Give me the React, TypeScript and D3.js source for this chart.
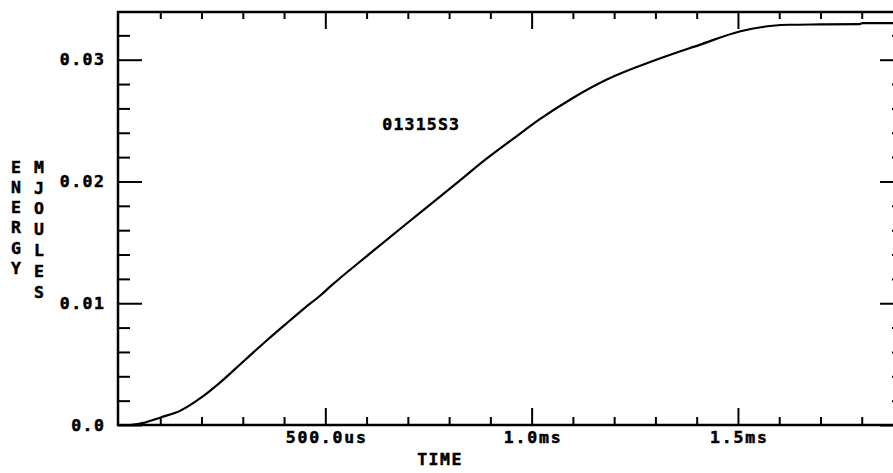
import { useEffect, useRef } from "react";
import * as d3 from "d3";

// time in ms, energy in joules
const timeMs = [
  0, 0.026, 0.06, 0.101, 0.149, 0.198, 0.239, 0.304, 0.36, 0.401, 0.449, 0.49,
  0.513, 0.607, 0.721, 0.825, 0.89, 0.955, 1.019, 1.099, 1.181, 1.302, 1.407,
  1.504, 1.584, 1.625, 1.7, 1.795, 1.802, 1.9,
];
const energy = [
  0, 0, 0.00018, 0.00062, 0.00118, 0.00222, 0.00332, 0.0053, 0.0070, 0.0082,
  0.00958, 0.0107, 0.0114, 0.01405, 0.0172, 0.02005, 0.02185, 0.0235,
  0.0251, 0.02684, 0.02835, 0.02999, 0.03122, 0.03232, 0.03279, 0.03287,
  0.0329, 0.03293, 0.03301, 0.03301,
];

const yMajor = [0, 0.01, 0.02, 0.03];
const yMajorLabels = ["0.0", "0.01", "0.02", "0.03"];
const yMinor = [0.002, 0.004, 0.006, 0.008, 0.012, 0.014, 0.016, 0.018, 0.022, 0.024, 0.026, 0.028, 0.032];

const xMajor = [0.5, 1.0, 1.5];
const xMajorLabels = ["500.0us", "1.0ms", "1.5ms"];
const xMinor = [0.1, 0.2, 0.3, 0.4, 0.6, 0.7, 0.8, 0.9, 1.1, 1.2, 1.3, 1.4, 1.6, 1.7, 1.8];

const yTitleA = "ENERGY";
const yTitleB = "MJOULES";
const xTitle = "TIME";
const curveLabel = "01315S3";

const FONT = "'DejaVu Sans Mono', monospace";
const FS = 16.5;

export default function App() {
  const svgRef = useRef(null);

  useEffect(() => {
    const svg = d3.select(svgRef.current);
    svg.selectAll("*").remove();

    const left = 119;
    const right = 903;
    const top = 11;
    const bottom = 425;

    const x = d3.scaleLinear().domain([0, 1.9]).range([left, right]);
    const y = d3.scaleLinear().domain([0, 0.034]).range([bottom, top]);

    const ink = "#000";

    // frame
    svg
      .append("rect")
      .attr("x", left - 1)
      .attr("y", top + 1)
      .attr("width", right - left + 2)
      .attr("height", bottom - top - 1)
      .attr("fill", "none")
      .attr("stroke", ink)
      .attr("stroke-width", 2.5);

    const styleAxis = (g) => {
      g.select(".domain").remove();
      g.selectAll("line").attr("stroke", ink).attr("stroke-width", 2);
    };

    const boldText = (sel) =>
      sel
        .attr("fill", ink)
        .attr("stroke", ink)
        .attr("stroke-width", 0.5)
        .attr("font-family", FONT)
        .attr("font-weight", "bold")
        .attr("font-size", FS);

    // left axis
    svg
      .append("g")
      .attr("transform", `translate(${left - 1},0)`)
      .call(d3.axisLeft(y).tickValues(yMinor).tickSize(-12).tickFormat(() => ""))
      .call(styleAxis);
    svg
      .append("g")
      .attr("transform", `translate(${left - 1},0)`)
      .call(
        d3
          .axisLeft(y)
          .tickValues(yMajor)
          .tickSize(-24)
          .tickPadding(14)
          .tickFormat((d, i) => yMajorLabels[i])
      )
      .call(styleAxis)
      .call((g) =>
        g
          .selectAll("text")
          .call(boldText)
          .attr("letter-spacing", 1.5)
          .attr("dx", 1.5)
      );

    // right axis
    svg
      .append("g")
      .attr("transform", `translate(${right + 1},0)`)
      .call(d3.axisRight(y).tickValues(yMinor).tickSize(-12).tickFormat(() => ""))
      .call(styleAxis);
    svg
      .append("g")
      .attr("transform", `translate(${right + 1},0)`)
      .call(d3.axisRight(y).tickValues(yMajor).tickSize(-24).tickFormat(() => ""))
      .call(styleAxis);

    // bottom axis
    svg
      .append("g")
      .attr("transform", `translate(0,${bottom})`)
      .call(d3.axisBottom(x).tickValues(xMinor).tickSize(-8).tickFormat(() => ""))
      .call(styleAxis);
    svg
      .append("g")
      .attr("transform", `translate(0,${bottom})`)
      .call(
        d3
          .axisBottom(x)
          .tickValues(xMajor)
          .tickSize(-17)
          .tickPadding(6)
          .tickFormat((d, i) => xMajorLabels[i])
      )
      .call(styleAxis)
      .call((g) =>
        g
          .selectAll("text")
          .call(boldText)
          .attr("letter-spacing", 1.8)
          .attr("dx", 0.9)
      );

    // top axis
    svg
      .append("g")
      .attr("transform", `translate(0,${top + 1})`)
      .call(d3.axisTop(x).tickValues(xMinor).tickSize(-7).tickFormat(() => ""))
      .call(styleAxis);
    svg
      .append("g")
      .attr("transform", `translate(0,${top + 1})`)
      .call(d3.axisTop(x).tickValues(xMajor).tickSize(-17).tickFormat(() => ""))
      .call(styleAxis);

    // curve
    const pts = timeMs.map((t, i) => [t, energy[i]]);
    const line = d3
      .line()
      .x((d) => x(d[0]))
      .y((d) => y(d[1]))
      .curve(d3.curveMonotoneX);
    svg
      .append("path")
      .attr("d", line(pts))
      .attr("fill", "none")
      .attr("stroke", ink)
      .attr("stroke-width", 2.2);

    // curve label
    svg
      .append("text")
      .attr("x", x(0.731))
      .attr("y", y(0.0247))
      .attr("dy", "0.35em")
      .attr("text-anchor", "middle")
      .call(boldText)
      .attr("letter-spacing", 1.2)
      .attr("dx", 0.6)
      .text(curveLabel);

    // x title
    svg
      .append("text")
      .attr("x", x(0.778))
      .attr("y", 465)
      .attr("text-anchor", "middle")
      .call(boldText)
      .attr("letter-spacing", 1.5)
      .text(xTitle);

    // y titles, stacked letters
    yTitleA.split("").forEach((ch, i) => {
      svg
        .append("text")
        .attr("x", 16)
        .attr("y", 167 + i * 20.2)
        .attr("dy", "0.35em")
        .attr("text-anchor", "middle")
        .call(boldText)
        .text(ch);
    });
    yTitleB.split("").forEach((ch, i) => {
      svg
        .append("text")
        .attr("x", 39)
        .attr("y", 167 + i * 20.8)
        .attr("dy", "0.35em")
        .attr("text-anchor", "middle")
        .call(boldText)
        .text(ch);
    });
  }, []);

  return (
    <svg
      ref={svgRef}
      width={893}
      height={473}
      style={{ position: "absolute", left: 0, top: 0, background: "#fff" }}
    />
  );
}
